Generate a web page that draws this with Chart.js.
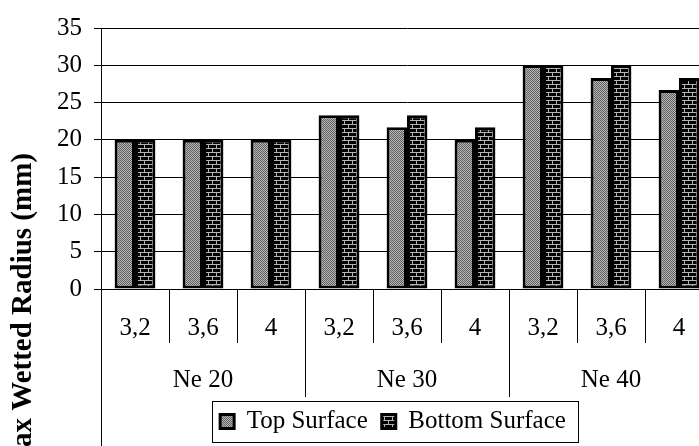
<!DOCTYPE html>
<html>
<head>
<meta charset="utf-8">
<script src="https://cdn.jsdelivr.net/npm/chart.js@4.4.0/dist/chart.umd.min.js"></script>
<style>
    html, body { margin: 0; padding: 0; background: #fff; overflow: hidden; }
    #wrap { position: relative; width: 786px; height: 460px; }
</style>
</head>
<body>
<div id="wrap"><canvas id="radiusChart" width="786" height="460"></canvas></div>
<script>
// ===== data =====
const nozzleLabels = ['3,2', '3,6', '4', '3,2', '3,6', '4', '3,2', '3,6', '4'];
const groupLabels = ['Ne 20', 'Ne 30', 'Ne 40'];
const topSurface = [20, 20, 20, 23.3, 21.7, 20, 30, 28.3, 26.7];
const bottomSurface = [20, 20, 20, 23.3, 23.3, 21.7, 30, 30, 28.3];
const seriesNames = ['Top Surface', 'Bottom Surface'];
const yTitle = 'Max Wetted Radius (mm)';

const serif = "'Liberation Serif', 'Times New Roman', serif";

// ===== fill patterns (gray dots / bricks) =====
function dotPattern() {
    const c = document.createElement('canvas');
    c.width = 2; c.height = 2;
    const g = c.getContext('2d');
    g.fillStyle = '#b8b8b8';
    g.fillRect(0, 0, 2, 2);
    g.fillStyle = '#606060';
    g.fillRect(0, 0, 1, 1);
    g.fillRect(1, 1, 1, 1);
    return g.createPattern(c, 'repeat');
}

function brickPattern() {
    const c = document.createElement('canvas');
    c.width = 8; c.height = 8;
    const g = c.getContext('2d');
    g.fillStyle = '#000';
    g.fillRect(0, 0, 8, 8);
    g.fillStyle = '#b4b4b4';
    g.fillRect(0, 0, 8, 1);
    g.fillRect(0, 4, 8, 1);
    g.fillRect(0, 1, 1, 3);
    g.fillRect(4, 5, 1, 3);
    return g.createPattern(c, 'repeat');
}

// ===== extra drawing: rotated y title, left rule, legend frame =====
const extras = {
    id: 'extras',
    afterDraw(chart) {
        const ctx = chart.ctx;
        const area = chart.chartArea;
        ctx.save();

        ctx.fillStyle = '#000';
        ctx.font = 'bold 29px ' + serif;
        ctx.textAlign = 'right';
        ctx.textBaseline = 'middle';
        ctx.translate(24, 153);
        ctx.rotate(-Math.PI / 2);
        ctx.fillText(yTitle, 0, 0);
        ctx.setTransform(1, 0, 0, 1, 0, 0);

        ctx.strokeStyle = '#000';
        ctx.lineWidth = 1;
        ctx.beginPath();
        ctx.moveTo(Math.round(area.left) + 0.5, area.bottom);
        ctx.lineTo(Math.round(area.left) + 0.5, chart.height);
        ctx.stroke();

        const boxes = chart.legend.legendHitBoxes;
        if (boxes && boxes.length) {
            const first = boxes[0];
            const last = boxes[boxes.length - 1];
            const x0 = Math.round(first.left - 8) + 0.5;
            const x1 = Math.round(last.left + last.width + 12) + 0.5;
            const y0 = Math.round(first.top - 8) + 0.5;
            const y1 = Math.round(first.top + first.height + 8) + 0.5;
            ctx.strokeRect(x0, y0, x1 - x0, y1 - y0);
        }
        ctx.restore();
    }
};

document.addEventListener('DOMContentLoaded', function() {
    const canvas = document.getElementById('radiusChart');

    new Chart(canvas, {
        type: 'bar',
        data: {
            labels: nozzleLabels,
            datasets: [{
                label: seriesNames[0],
                data: topSurface,
                backgroundColor: dotPattern(),
                borderColor: '#000',
                borderWidth: 3,
                borderSkipped: false,
                categoryPercentage: 0.6,
                barPercentage: 1.0
            }, {
                label: seriesNames[1],
                data: bottomSurface,
                backgroundColor: brickPattern(),
                borderColor: '#000',
                borderWidth: 3,
                borderSkipped: false,
                categoryPercentage: 0.6,
                barPercentage: 1.0
            }]
        },
        options: {
            responsive: false,
            animation: false,
            layout: { padding: { top: 28, left: 0, right: 0, bottom: 16 } },
            plugins: {
                tooltip: { enabled: false },
                legend: {
                    position: 'bottom',
                    labels: {
                        color: '#000',
                        font: { family: serif, size: 25 },
                        boxWidth: 14,
                        boxHeight: 14,
                        padding: 14
                    }
                }
            },
            scales: {
                x: {
                    position: 'bottom',
                    weight: 0,
                    grid: { offset: true, drawOnChartArea: false, tickLength: 54, color: '#000' },
                    border: { color: '#000' },
                    ticks: { color: '#000', font: { family: serif, size: 25 }, padding: -30, maxRotation: 0, autoSkip: false },
                    afterFit: function(scale) { scale.height = 54; }
                },
                x2: {
                    type: 'category',
                    labels: groupLabels,
                    position: 'bottom',
                    weight: 1,
                    offset: true,
                    grid: { offset: true, drawOnChartArea: false, tickLength: 54, color: '#000' },
                    border: { display: false },
                    ticks: { color: '#000', font: { family: serif, size: 25 }, padding: -32, maxRotation: 0 },
                    afterFit: function(scale) { scale.height = 52; }
                },
                y: {
                    min: 0,
                    max: 35,
                    grid: { color: '#000', tickLength: 7 },
                    border: { color: '#000' },
                    ticks: { stepSize: 5, color: '#000', font: { family: serif, size: 25 }, padding: 12 },
                    afterFit: function(scale) { scale.width = 101; }
                },
                pad: {
                    type: 'linear',
                    position: 'right',
                    grid: { display: false },
                    border: { display: false },
                    ticks: { display: false },
                    afterFit: function(scale) { scale.width = 73; }
                }
            }
        },
        plugins: [extras]
    });
});
</script>
</body>
</html>
